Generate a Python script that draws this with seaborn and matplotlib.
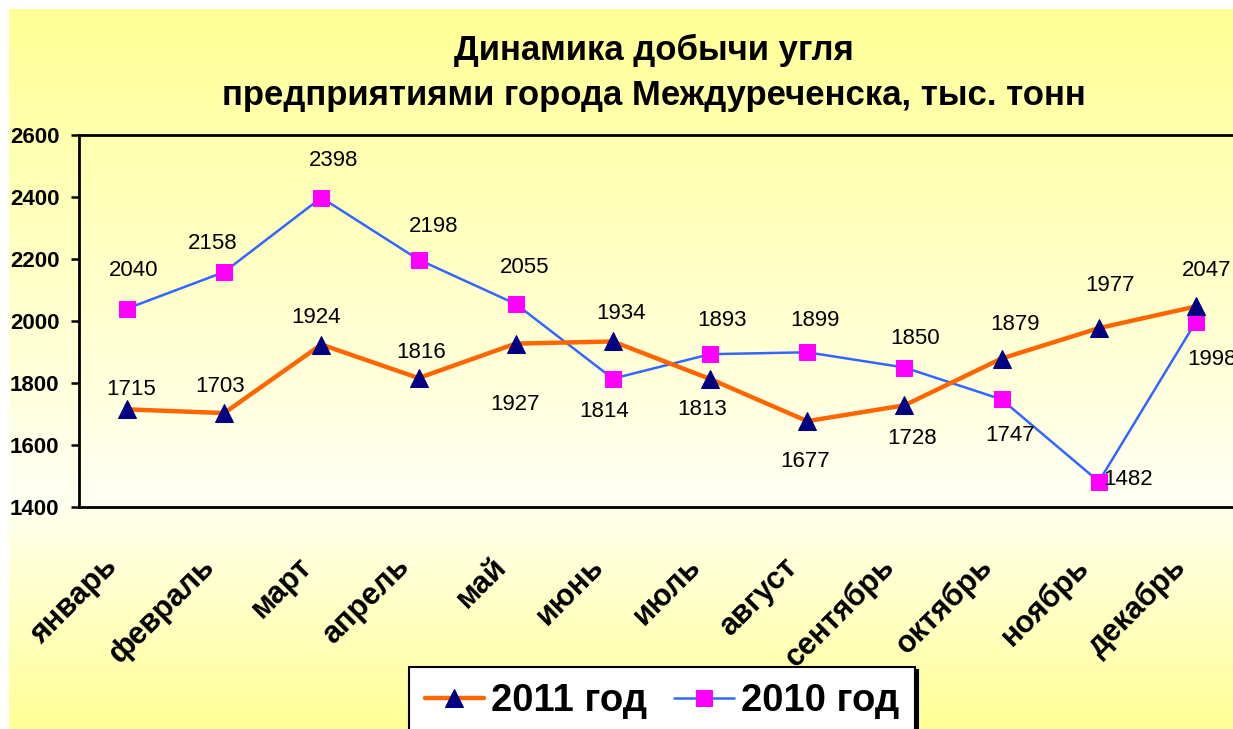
import numpy as np
import pandas as pd
import matplotlib
matplotlib.use("Agg")
import matplotlib.pyplot as plt
import matplotlib.transforms as mtransforms
from matplotlib.colors import LinearSegmentedColormap
import seaborn as sns

# ---- data ----
months = ["январь", "февраль", "март", "апрель", "май", "июнь",
          "июль", "август", "сентябрь", "октябрь", "ноябрь", "декабрь"]
values_2011 = [1715, 1703, 1924, 1816, 1927, 1934, 1813, 1677, 1728, 1879, 1977, 2047]
values_2010 = [2040, 2158, 2398, 2198, 2055, 1814, 1893, 1899, 1850, 1747, 1482, 1998]
series_names = ["2011 год", "2010 год"]
y_ticks = [1400, 1600, 1800, 2000, 2200, 2400, 2600]
title_lines = ["Динамика добычи угля", "предприятиями города Междуреченска, тыс. тонн"]

# label offsets (pixels) – styling only
off_2011 = [(4, 20), (-4, 27), (-5, 27), (3, 26), (-1, -61), (8, 28),
            (-8, -31), (-2, -40), (8, -33), (13, 34), (11, 43), (11, 36)]
off_2010 = [(7, 38), (-11, 29), (12, 37), (15, 33), (9, 36), (-9, -33),
            (12, 34), (8, 32), (11, 29), (8, -36), (29, 2), (16, -38)]

sns.set_theme(style="white")
plt.rcParams["font.family"] = ["Liberation Sans", "DejaVu Sans"]
for key in ["text.color", "axes.labelcolor", "xtick.color", "ytick.color"]:
    plt.rcParams[key] = "black"

W, H = 1233, 729
fig = plt.figure(figsize=(W / 100, H / 100), dpi=100)
fig.patch.set_facecolor("white")

# gradient background
bg = fig.add_axes([9 / W, 0, 1 - 9 / W, 1 - 9 / H], zorder=-10)
cmap = LinearSegmentedColormap.from_list(
    "g", [(0.0, "#FFFF96"), (0.68, "#FFFFF2"), (1.0, "#FFFF96")])
grad = np.linspace(0, 1, 400).reshape(-1, 1)
bg.imshow(grad, aspect="auto", cmap=cmap, extent=[0, 1, 0, 1], origin="upper")
bg.set_axis_off()

# main axes
ax_left, ax_right, ax_top, ax_bot = 79, 1233, 135, 507
ax = fig.add_axes([ax_left / W, 1 - ax_bot / H, (ax_right - ax_left) / W, (ax_bot - ax_top) / H])
ax.set_facecolor("none")

x = np.arange(len(months))
df = pd.DataFrame({"x": np.concatenate([x, x]),
                   "v": values_2011 + values_2010,
                   "s": [series_names[0]] * 12 + [series_names[1]] * 12})

sns.lineplot(data=df[df.s == series_names[1]], x="x", y="v", ax=ax, color="#3366FF",
             linewidth=1.8, marker="s", markersize=12, markerfacecolor="#FF00FF",
             markeredgecolor="#FF00FF", label=series_names[1], zorder=3, sort=False)
sns.lineplot(data=df[df.s == series_names[0]], x="x", y="v", ax=ax, color="#FF6600",
             linewidth=3.2, marker="^", markersize=13, markerfacecolor="#000080",
             markeredgecolor="#000080", label=series_names[0], zorder=4, sort=False)

spacing = 97.18
ax.set_xlim(-(127 - ax_left) / spacing, -(127 - ax_left) / spacing + (ax_right - ax_left) / spacing)
ax.set_ylim(1400, 2600)
ax.set_yticks(y_ticks)
ax.set_yticklabels([str(t) for t in y_ticks], fontsize=16, fontweight="bold")
ax.set_xticks(x)
ax.set_xticklabels(months, fontsize=22, fontweight="bold", rotation=45,
                   ha="right", va="center", rotation_mode="anchor")
ax.set_xlabel("")
ax.set_ylabel("")
ax.tick_params(axis="y", length=6, width=1.8, color="black", pad=8, left=True)
ax.tick_params(axis="x", length=0, pad=40)
shift = mtransforms.ScaledTranslation(-14 / 100, 0, fig.dpi_scale_trans)
for lab in ax.get_xticklabels():
    lab.set_transform(lab.get_transform() + shift)

for side in ["left", "top", "bottom"]:
    ax.spines[side].set_visible(True)
    ax.spines[side].set_color("black")
    ax.spines[side].set_linewidth(2)
ax.spines["right"].set_visible(False)
ax.grid(False)

for i, v in enumerate(values_2011):
    ax.annotate(str(v), (i, v), xytext=off_2011[i], textcoords="offset pixels",
                ha="center", va="center", fontsize=16, color="black", zorder=6,
                annotation_clip=False)
for i, v in enumerate(values_2010):
    ax.annotate(str(v), (i, v), xytext=off_2010[i], textcoords="offset pixels",
                ha="center", va="center", fontsize=16, color="black", zorder=6,
                annotation_clip=False)

# title
fig.text(654 / W, 1 - 50 / H, title_lines[0], ha="center", va="center",
         fontsize=25, fontweight="bold", color="black")
fig.text(654 / W, 1 - 95 / H, title_lines[1], ha="center", va="center",
         fontsize=25, fontweight="bold", color="black")

# legend
handles, labels = ax.get_legend_handles_labels()
order = [labels.index(series_names[0]), labels.index(series_names[1])]
leg = ax.legend([handles[k] for k in order], [labels[k] for k in order],
                loc="upper center", bbox_to_anchor=(662 / W, 1 - 667 / H),
                bbox_transform=fig.transFigure, ncol=2, frameon=True, fancybox=False,
                shadow={"facecolor": "black", "edgecolor": "black", "alpha": 1},
                prop={"weight": "bold", "size": 27.5}, handlelength=1.55,
                handletextpad=0.2, columnspacing=0.7, borderpad=0.42,
                borderaxespad=0)
leg.get_frame().set_edgecolor("black")
leg.get_frame().set_linewidth(1.5)
leg.get_frame().set_facecolor("white")

fig.savefig("out.png", dpi=100, facecolor=fig.get_facecolor())
